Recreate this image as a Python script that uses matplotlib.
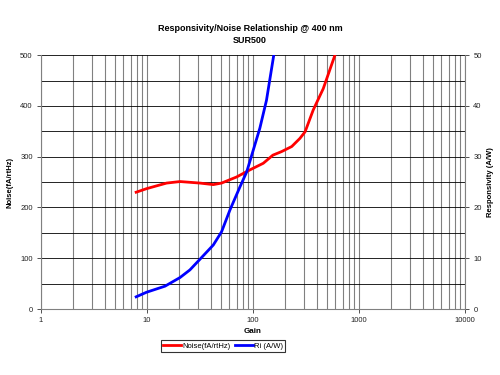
import matplotlib
matplotlib.use('Agg')
from matplotlib import pyplot as plt
from matplotlib.ticker import LogLocator, FixedLocator, NullFormatter

plt.rcParams['font.family'] = ['Liberation Sans', 'DejaVu Sans']

gain_noise = [7.9, 9.9, 15.3, 20.5, 31.6, 42.2, 50.5, 70, 93.5, 125, 154, 186, 232, 277, 310, 370, 460, 593]
noise = [230, 237, 248, 251, 248, 245, 248, 260, 274, 287, 303, 310, 320, 336, 349, 392, 434, 500]

gain_ri = [7.9, 9.9, 14.8, 20.5, 25.4, 31.6, 42.2, 50.5, 60.6, 75.5, 87.2, 100.6, 116, 134, 157]
ri = [2.4, 3.3, 4.5, 6.2, 7.7, 9.8, 12.6, 15.2, 19.5, 24.1, 27.0, 31.3, 35.6, 41.1, 50.0]

fig = plt.figure(figsize=(5, 3.75), dpi=100)
ax = fig.add_axes([0.082, 0.176, 0.848, 0.677])
ax2 = ax.twinx()

l1, = ax.plot(gain_noise, noise, color='#ff0000', lw=2)
l2, = ax2.plot(gain_ri, ri, color='#0000ff', lw=2)

ax.set_xscale('log')
ax.set_xlim(1, 10000)
ax.set_ylim(0, 500)
ax2.set_ylim(0, 50)
ax.xaxis.set_minor_locator(LogLocator(base=10, subs=range(2, 10), numticks=20))
ax.xaxis.set_minor_formatter(NullFormatter())
ax.set_xticks([1, 10, 100, 1000, 10000])
ax.set_xticklabels(['1', '10', '100', '1000', '10000'])
ax.set_yticks(range(0, 501, 100))
ax.yaxis.set_minor_locator(FixedLocator(range(50, 500, 100)))
ax2.set_yticks(range(0, 51, 10))

ax.grid(True, which='both', axis='x', color='#808080', lw=0.8)
ax.grid(True, which='both', axis='y', color='#000000', lw=0.6)
ax.set_axisbelow(True)

for a in (ax, ax2):
    a.tick_params(labelsize=5.5, length=3, width=0.6, colors='#333333', labelcolor='#222222', pad=3)
    a.tick_params(which='minor', length=0)
    for s in a.spines.values():
        s.set_visible(False)
ax.spines['left'].set_visible(True)
ax.spines['bottom'].set_visible(True)
ax2.spines['right'].set_visible(True)
ax.spines['left'].set_color('#808080')
ax.spines['bottom'].set_color('#808080')
ax2.spines['right'].set_color('#808080')

ax.set_xlabel('Gain', fontsize=5.8, fontweight='bold')
ax.xaxis.set_label_coords(0.5, -0.075)
ax.set_ylabel('Noise(fA/rtHz)', fontsize=5.5, fontweight='bold')
ax.yaxis.set_label_coords(-0.064, 0.5)
ax2.set_ylabel('Responsivity (A/W)', fontsize=5.5, fontweight='bold')
ax2.yaxis.set_label_coords(1.052, 0.5)

fig.suptitle('Responsivity/Noise Relationship @ 400 nm\nSUR500', fontsize=6.5, fontweight='bold', y=0.935, linespacing=1.4)

leg = fig.legend([l1, l2], ['Noise(fA/rtHz)', 'Ri (A/W)'], loc='center', bbox_to_anchor=(0.446, 0.077),
                 ncol=2, fontsize=5.5, frameon=True, fancybox=False, handlelength=2.4,
                 handletextpad=0.1, columnspacing=0.6, borderpad=0.3, edgecolor='#000000')
leg.get_frame().set_linewidth(0.8)

plt.savefig('out.png', dpi=100)
